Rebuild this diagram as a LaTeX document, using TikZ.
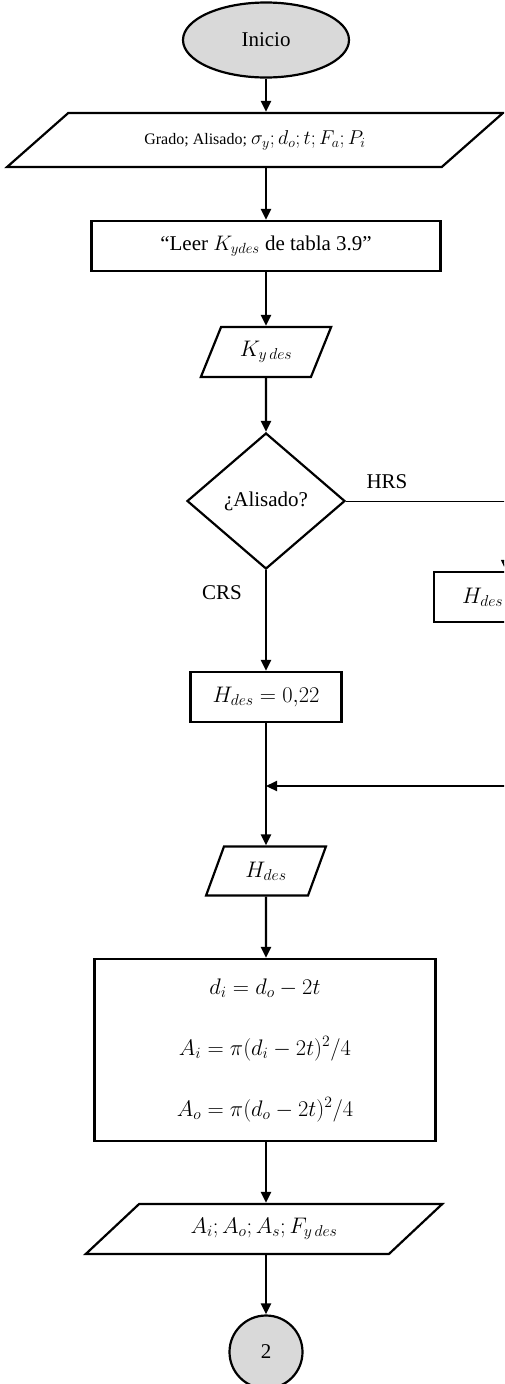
\RequirePackage{fix-cm}
\documentclass[tikz,border=0pt]{standalone}
\usepackage{fontspec}
\setmainfont{Liberation Serif}
\usetikzlibrary{shapes.geometric, arrows.meta}
\definecolor{grisclaro}{RGB}{217,217,217}

\begin{document}
\begin{tikzpicture}[
  x=1pt, y=-1pt,
  every node/.style={inner sep=0pt, font=\fontsize{21}{25}\selectfont},
  mate/.style={font=\fontsize{22.5}{27}\selectfont},
  terminal/.style={ellipse, draw, line width=2.2pt, fill=grisclaro},
  proceso/.style={rectangle, draw, line width=2.2pt},
  decision/.style={diamond, draw, line width=2.2pt, aspect=1.16},
  datos/.style 2 args={trapezium, trapezium stretches=true, draw, line width=2.2pt,
    trapezium left angle=#1, trapezium right angle=#2},
  conector/.style={circle, draw, line width=2.2pt, fill=grisclaro},
  flecha/.style={-{Triangle[length=11pt,width=10pt]}, line width=2.2pt}]
    \useasboundingbox (0,0) rectangle (504,1384);
    \clip (0,0) rectangle (504,1384);
    % Inicio y lectura de datos
    \node[terminal, minimum width=166pt, minimum height=75pt] (inicio) at (266,40) {Inicio};
    \node[datos={28.4}{151.6}, minimum width=496pt, minimum height=54pt,
      font=\fontsize{16}{19}\selectfont] (grado) at (255,140)
      {Grado; Alisado; {\fontsize{20}{24}\selectfont$\sigma_y; d_o; t; F_a; P_i$}};
    \node[proceso, minimum width=349pt, minimum height=50pt] (leer) at (266,246)
      {“Leer $K_{ydes}$ de tabla 3.9”};
    \node[datos={61.6}{118.4}, mate, minimum width=131pt, minimum height=50pt] (kdes) at (266,352)
      {$K_{y\,des}$};
    % Tipo de alisado
    \node[decision, minimum width=158pt, minimum height=136pt] (alisado) at (266,501) {¿Alisado?};
    \node (hrs) at (387,482) {HRS};
    \node (crs) at (222,593) {CRS};
    \node[proceso, mate, minimum width=151pt, minimum height=50pt] (hcrs) at (266,697)
      {$H_{des} = 0{,}22$};
    \node[proceso, mate, minimum height=50pt, inner xsep=28pt, text width=88pt, align=left]
      (hhrs) at (506,597) {$H_{des}$};
    \coordinate (union) at (266,786);
    % Areas
    \node[datos={64.9}{115.1}, mate, minimum width=120pt, minimum height=49pt] (hdes) at (266,871)
      {$H_{des}$};
    \node[proceso, minimum width=341pt, minimum height=182pt, align=center,
      font=\fontsize{22.5}{61}\selectfont] (areas) at (265,1050)
      {$d_i = d_o - 2t$\\ $A_i = \pi(d_i - 2t)^2/4$\\ $A_o = \pi(d_o - 2t)^2/4$};
    \node[datos={34.8}{145.2}, mate, minimum width=357pt, minimum height=50pt] (salida) at (264,1229)
      {$A_i; A_o; A_s; F_{y\,des}$};
    \node[conector, minimum size=73pt] (fin) at (266,1352) {2};

    \draw[flecha] (inicio) -- (inicio |- grado.north);
    \draw[flecha] (inicio |- grado.south) -- (leer);
    \draw[flecha] (leer) -- (kdes);
    \draw[flecha] (kdes) -- (alisado);
    \draw[flecha] (alisado) -- (hcrs);
    \draw[flecha, line width=1pt] (alisado.east) -| (hhrs.north);
    \draw[line width=2.2pt] (hcrs) -- (union);
    \draw[flecha] (hhrs.south) |- (union);
    \draw[flecha] (union) -- (hdes);
    \draw[flecha] (hdes) -- (hdes |- areas.north);
    \draw[flecha] (hdes |- areas.south) -- (hdes |- salida.north);
    \draw[flecha] (hdes |- salida.south) -- (fin);
\end{tikzpicture}
\end{document}
